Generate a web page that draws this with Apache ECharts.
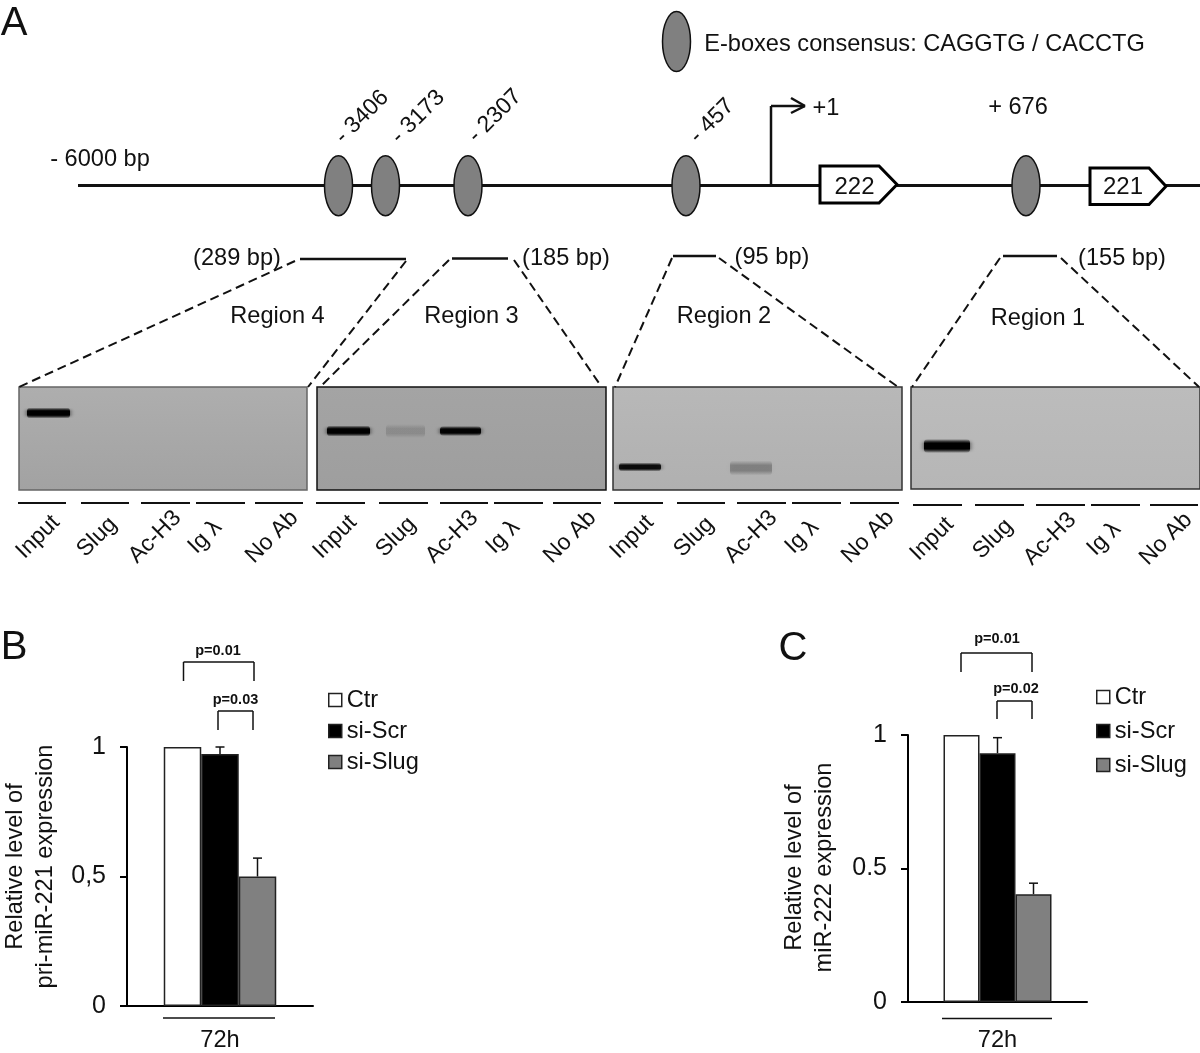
<!DOCTYPE html>
<html>
<head>
<meta charset="utf-8">
<title>E-boxes, ChIP and miR-221/222 expression</title>
<style>
  html, body { margin: 0; padding: 0; background: #fff; }
  #container { width: 1200px; height: 1053px; }
</style>
<script src="https://cdn.jsdelivr.net/npm/echarts@6/dist/echarts.min.js"></script>
</head>
<body>
<div id="container"></div>
<script>
var groupNames = ['Ctr', 'si-Scr', 'si-Slug'];
var timeCategories = ['72h'];
var pri221Values = [1, 0.973, 0.5];
var pri221Errors = [0, 0.027, 0.071];
var pri221Ticks = ['0', '0,5', '1'];
var mir222Values = [1, 0.932, 0.404];
var mir222Errors = [0, 0.058, 0.041];
var mir222Ticks = ['0', '0.5', '1'];

// panel A: lanes and band strength (0 = nothing, 1 = black)
var laneNames = ['Input', 'Slug', 'Ac-H3', 'Ig \u03bb', 'No Ab'];
var region4Bands = [1, 0, 0, 0, 0];
var region3Bands = [1, 0.13, 0.97, 0, 0];
var region2Bands = [0.88, 0, 0.25, 0, 0];
var region1Bands = [1, 0, 0, 0, 0];
var eBoxLabels = ['- 3406', '- 3173', '- 2307', '- 457'];

var FONT = '"Liberation Sans", Arial, sans-serif';
var INK = '#111';
var GREY = '#808080';
var EDGE = '#222';
var TEXT_SIZE = 23.6;

//---------- layout of the schematic, page pixels on the hidden grid ----------
var gels = [
  { x: 19, y: 387, w: 288, h: 103, top: '#aeaeae', bottom: '#a2a2a2', edge: '#666', bands: region4Bands,
    bandX: [[27, 70, 413, 11]], laneX: [[18, 66], [81, 129], [141, 190], [196, 245], [255, 303]], laneY: 503,
    labelX: [38, 97, 155, 205, 272], labelY: 537 },
  { x: 317, y: 387, w: 289, h: 103, top: '#a4a4a4', bottom: '#9e9e9e', edge: '#111', bands: region3Bands,
    bandX: [[327, 370, 431, 11], [386, 425, 431, 14], [440, 481, 431, 10]], laneX: [[316, 365], [379, 428], [440, 488], [494, 543], [553, 601]], laneY: 503,
    labelX: [335, 396, 452, 503, 570], labelY: 537 },
  { x: 613, y: 387, w: 289, h: 103, top: '#b8b8b8', bottom: '#b0b0b0', edge: '#333', bands: region2Bands,
    bandX: [[619, 661, 467, 9], null, [730, 772, 468, 15]], laneX: [[614, 663], [677, 725], [737, 786], [792, 841], [850, 899]], laneY: 503,
    labelX: [632, 694, 751, 802, 868], labelY: 537 },
  { x: 911, y: 387, w: 289, h: 102, top: '#bcbcbc', bottom: '#b6b6b6', edge: '#333', bands: region1Bands,
    bandX: [[924, 970, 446, 14]], laneX: [[913, 962], [975, 1024], [1036, 1085], [1091, 1140], [1150, 1198]], laneY: 505,
    labelX: [932, 993, 1050, 1104, 1166], labelY: 539 }
];

var eBoxes = [[676.5, 41.5], [338.5, 185.7], [385.5, 185.7], [468, 185.7], [686, 185.7], [1026, 185.7]];
var solidLines = [
  [78, 185.5, 1200, 185.5, 3],
  [771, 185, 771, 106, 2.5], [771, 106, 805, 106, 2.5],
  [791, 98, 805, 106, 2.5], [791, 113, 805, 106, 2.5],
  [300, 259, 406, 259, 2.5], [452, 258.5, 508, 258.5, 2.5],
  [673, 256, 716, 256, 2.5], [1003, 256, 1057, 256, 2.5],
  // brackets of panels B and C
  [183.5, 681, 183.5, 662, 1.5], [183.5, 662, 254, 662, 1.5], [254, 662, 254, 681, 1.5],
  [218, 730, 218, 711, 1.5], [218, 711, 253, 711, 1.5], [253, 711, 253, 730, 1.5],
  [961, 672, 961, 653, 1.5], [961, 653, 1032, 653, 1.5], [1032, 653, 1032, 672, 1.5],
  [997, 719, 997, 701, 1.5], [997, 701, 1032, 701, 1.5], [1032, 701, 1032, 719, 1.5],
  // bar under the bars
  [163, 1018, 275, 1018, 1.5], [942, 1018.5, 1052, 1018.5, 1.5]
];
var dashedLines = [
  [295, 261, 19, 387], [406, 261, 308, 387],
  [449, 260, 320, 387], [514, 260, 601, 386],
  [672, 258, 615, 387], [719, 258, 898, 387],
  [1000, 258, 912, 387], [1061, 258, 1199, 387]
];
var geneBoxes = [
  ['222', 820, 879, 897, 166, 203],
  ['221', 1090, 1149, 1166, 168, 204.5]
];
var texts = [
  ['A', 14, 24, 40, 0], ['B', 14, 648, 40, 0], ['C', 793, 649, 40, 0],
  ['E-boxes consensus: CAGGTG / CACCTG', 924.5, 44, TEXT_SIZE, 0],
  ['- 6000 bp', 100, 159, TEXT_SIZE, 0],
  [eBoxLabels[0], 362, 117, 23, 45], [eBoxLabels[1], 418, 117, 23, 45],
  [eBoxLabels[2], 495, 116, 23, 45], [eBoxLabels[3], 712, 121, 23, 45],
  ['+1', 826, 108, TEXT_SIZE, 0], ['+ 676', 1018, 107, TEXT_SIZE, 0],
  ['222', 854.5, 187, 24, 0], ['221', 1123, 187, 24, 0],
  ['(289 bp)', 237, 258, TEXT_SIZE, 0], ['(185 bp)', 566, 258, TEXT_SIZE, 0],
  ['(95 bp)', 772, 257, TEXT_SIZE, 0], ['(155 bp)', 1122, 258, TEXT_SIZE, 0],
  ['Region 4', 277.5, 316, TEXT_SIZE, 0], ['Region 3', 471.5, 316, TEXT_SIZE, 0],
  ['Region 2', 724, 316, TEXT_SIZE, 0], ['Region 1', 1038, 318, TEXT_SIZE, 0]
];
var pTexts = [
  ['p=0.01', 218, 651], ['p=0.03', 235.5, 700],
  ['p=0.01', 997, 639], ['p=0.02', 1016, 689]
];

//---------- helpers ----------
// one custom series on the hidden full page grid, rows stay in the closure
function overlay(name, rows, draw, z) {
  return {
    name: name,
    type: 'custom',
    xAxisIndex: 2,
    yAxisIndex: 2,
    silent: true,
    clip: false,
    z: z,
    data: rows.map(function (r, i) { return [i, i]; }),
    encode: { x: 0, y: 1 },
    renderItem: function (params, api) {
      return draw(rows[params.dataIndex], api);
    }
  };
}

function segment(r, api, dash) {
  var a = api.coord([r[0], r[1]]);
  var b = api.coord([r[2], r[3]]);
  return {
    type: 'line',
    shape: { x1: a[0], y1: a[1], x2: b[0], y2: b[1] },
    style: { stroke: INK, lineWidth: dash ? 2 : r[4], lineDash: dash ? [9, 5] : null, fill: null }
  };
}

function label(text, x, y, size, angle, weight) {
  return {
    type: 'text',
    x: x,
    y: y,
    rotation: (angle || 0) * Math.PI / 180,
    style: {
      text: text,
      x: 0,
      y: 0,
      fill: '#111',
      fontFamily: FONT,
      fontSize: size,
      fontWeight: weight || 'normal',
      textAlign: 'center',
      textVerticalAlign: 'middle'
    }
  };
}

// flatten gel lists
var gelBandRows = [];
var laneRows = [];
var laneLabelRows = [];
gels.forEach(function (g) {
  g.bandX.forEach(function (b, lane) {
    if (b) gelBandRows.push({ x1: b[0], x2: b[1], y: b[2], h: b[3], level: g.bands[lane] });
  });
  g.laneX.forEach(function (l, lane) {
    laneRows.push([l[0], g.laneY, l[1], g.laneY, 2]);
    laneLabelRows.push([laneNames[lane], g.labelX[lane], g.labelY, 23, 45]);
  });
});

function errorSeries(name, values, errors, xIndex, barW) {
  return {
    name: name,
    type: 'custom',
    xAxisIndex: xIndex,
    yAxisIndex: xIndex,
    silent: true,
    z: 3,
    data: values.map(function (v, i) { return [0, v, errors[i], i]; }),
    encode: { x: 0, y: 1 },
    renderItem: function (params, api) {
      if (!api.value(2)) return null;
      var base = api.coord([0, api.value(1)]);
      var top = api.coord([0, api.value(1) + api.value(2)]);
      var x = base[0] + (api.value(3) - 1) * barW;
      var st = { stroke: '#111', lineWidth: 1.5 };
      return {
        type: 'group',
        children: [
          { type: 'line', shape: { x1: x, y1: base[1], x2: x, y2: top[1] }, style: st },
          { type: 'line', shape: { x1: x - 4.5, y1: top[1], x2: x + 4.5, y2: top[1] }, style: st }
        ]
      };
    }
  };
}

function barSeries(values, xIndex, barW) {
  var fills = ['#fff', '#000', GREY];
  return values.map(function (v, i) {
    return {
      name: groupNames[i],
      type: 'bar',
      xAxisIndex: xIndex,
      yAxisIndex: xIndex,
      barWidth: barW,
      barGap: 0,
      silent: true,
      z: 2,
      itemStyle: { color: fills[i], borderColor: EDGE, borderWidth: 1.5 },
      data: [v]
    };
  });
}

function valueAxis(index, name, nameGap, ticks, margin, namePad) {
  return {
    type: 'value',
    gridIndex: index,
    min: 0,
    max: 1,
    interval: 0.5,
    name: name,
    nameLocation: 'middle',
    nameGap: nameGap,
    nameRotate: 90,
    nameTextStyle: { color: INK, fontFamily: FONT, fontSize: TEXT_SIZE, lineHeight: 30, align: 'center', padding: [0, 0, 0, namePad] },
    splitLine: { show: false },
    axisLine: { show: true, lineStyle: { color: '#000', width: 2 } },
    axisTick: { show: true, inside: false, length: 7, lineStyle: { color: '#000', width: 2 } },
    axisLabel: {
      color: INK,
      fontFamily: FONT,
      fontSize: 25,
      margin: margin,
      formatter: function (val) { return ticks[Math.round(val * 2)]; }
    }
  };
}

function categoryAxis(index, margin) {
  return {
    type: 'category',
    gridIndex: index,
    data: timeCategories,
    axisLine: { show: true, lineStyle: { color: '#000', width: 2 } },
    axisTick: { show: false },
    axisLabel: { color: INK, fontFamily: FONT, fontSize: TEXT_SIZE, margin: margin }
  };
}

function legendAt(left, top, gap) {
  return {
    orient: 'vertical',
    left: left,
    top: top,
    itemWidth: 13,
    itemHeight: 13,
    itemGap: gap,
    icon: 'rect',
    selectedMode: false,
    data: groupNames,
    itemStyle: { borderColor: EDGE, borderWidth: 1.5 },
    textStyle: { color: INK, fontFamily: FONT, fontSize: TEXT_SIZE }
  };
}

//初始化echarts
var dom = document.getElementById('container');
var myChart = echarts.init(dom, null, { renderer: 'canvas' });

var option = {
  animation: false,
  backgroundColor: '#fff',
  legend: [legendAt(323, 683, 7), legendAt(1091, 680, 10)],
  grid: [
    { left: 127, top: 747, width: 186, height: 259, outerBoundsMode: 'none' },
    { left: 908, top: 735, width: 179, height: 267, outerBoundsMode: 'none' },
    { left: 0, top: 0, width: 1200, height: 1053, outerBoundsMode: 'none' }
  ],
  xAxis: [
    categoryAxis(0, 22),
    categoryAxis(1, 26),
    { type: 'value', gridIndex: 2, min: 0, max: 1200, show: false }
  ],
  yAxis: [
    valueAxis(0, 'Relative level of\npri-miR-221 expression', 67, pri221Ticks, 21, 20),
    valueAxis(1, 'Relative level of\nmiR-222 expression', 69, mir222Ticks, 21, 2),
    { type: 'value', gridIndex: 2, min: 0, max: 1053, inverse: true, show: false }
  ],
  series: [].concat(
    barSeries(pri221Values, 0, 37.5),
    barSeries(mir222Values, 1, 36),
    [
      errorSeries('pri-miR-221 error', pri221Values, pri221Errors, 0, 37.5),
      errorSeries('miR-222 error', mir222Values, mir222Errors, 1, 36),
      overlay('gels', gels, function (g, api) {
        var p = api.coord([g.x, g.y]);
        return {
          type: 'rect',
          shape: { x: p[0], y: p[1], width: g.w, height: g.h },
          style: {
            fill: new echarts.graphic.LinearGradient(0, 0, 0, 1, [
              { offset: 0, color: g.top },
              { offset: 1, color: g.bottom }
            ]),
            stroke: g.edge,
            lineWidth: 1.5
          }
        };
      }, 4),
      overlay('bands', gelBandRows, function (b, api) {
        var p = api.coord([b.x1, b.y - b.h / 2]);
        // soft edges like a scanned gel
        return {
          type: 'rect',
          shape: { x: p[0], y: p[1], width: b.x2 - b.x1, height: b.h, r: 4 },
          style: {
            fill: new echarts.graphic.LinearGradient(0, 0, 0, 1, [
              { offset: 0, color: 'rgba(0,0,0,0)' },
              { offset: 0.32, color: 'rgba(0,0,0,' + b.level + ')' },
              { offset: 0.68, color: 'rgba(0,0,0,' + b.level + ')' },
              { offset: 1, color: 'rgba(0,0,0,0)' }
            ]),
            shadowBlur: 5,
            shadowColor: 'rgba(0,0,0,' + b.level * 0.7 + ')'
          }
        };
      }, 5),
      overlay('lines', solidLines.concat(laneRows), function (r, api) { return segment(r, api, false); }, 6),
      overlay('dashes', dashedLines, function (r, api) { return segment(r, api, true); }, 6),
      overlay('e-boxes', eBoxes, function (e, api) {
        var p = api.coord(e);
        return {
          type: 'ellipse',
          shape: { cx: p[0], cy: p[1], rx: 14, ry: 30 },
          style: { fill: GREY, stroke: '#111', lineWidth: 1.5 }
        };
      }, 7),
      overlay('genes', geneBoxes, function (g, api) {
        var a = api.coord([g[1], g[4]]);
        var b = api.coord([g[2], g[5]]);
        var tip = api.coord([g[3], (g[4] + g[5]) / 2]);
        return {
          type: 'polygon',
          shape: { points: [[a[0], a[1]], [b[0], a[1]], tip, [b[0], b[1]], [a[0], b[1]]] },
          style: { fill: '#fff', stroke: '#000', lineWidth: 3 }
        };
      }, 7),
      overlay('texts', texts.concat(laneLabelRows), function (t) {
        return label(t[0], t[1], t[2], t[3], t[4]);
      }, 8),
      overlay('p values', pTexts, function (t) {
        return label(t[0], t[1], t[2], 14.5, 0, 'bold');
      }, 8)
    ]
  )
};

if (option && typeof option === 'object') {
  myChart.setOption(option);
}
</script>
</body>
</html>
